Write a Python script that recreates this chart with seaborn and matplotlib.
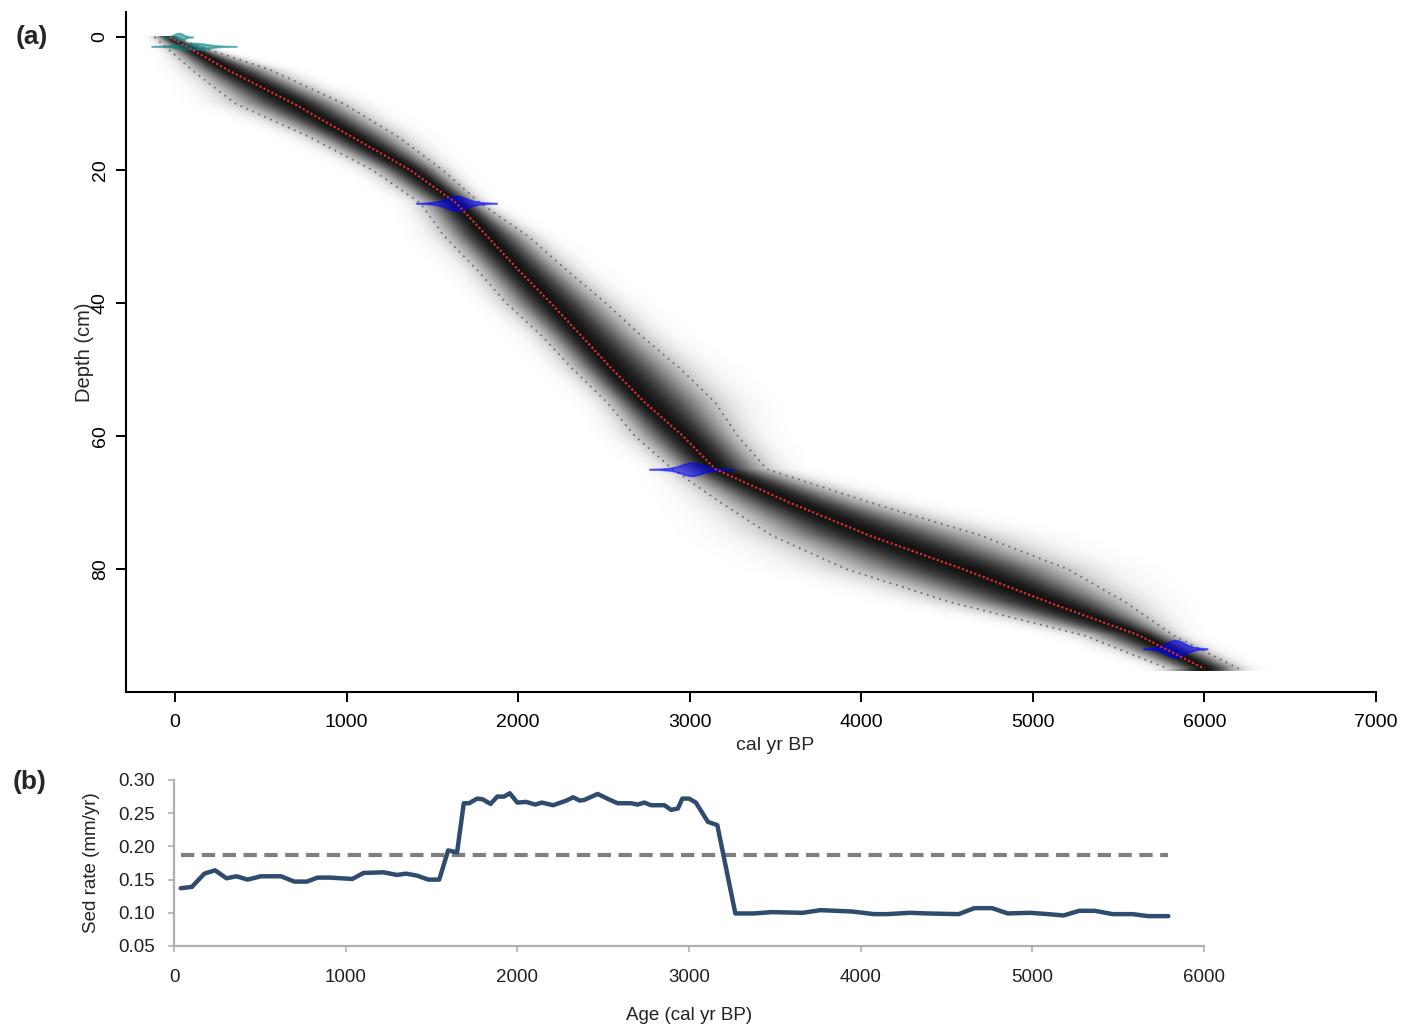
import numpy as np
import matplotlib
matplotlib.use("Agg")
import matplotlib.pyplot as plt
import seaborn as sns

# ---------------- data ----------------
# Panel (a): age-depth model (depth in cm, ages in cal yr BP)
model_depth = [0, 5, 10, 15, 20, 25, 30, 35, 40, 45, 50, 55, 60, 65, 70, 75, 80, 85, 90, 95]
model_mean = [-30, 310, 690, 1030, 1370, 1640, 1820, 2000, 2190, 2370, 2550, 2740, 2960,
              3150, 3580, 4050, 4590, 5090, 5620, 6000]
model_lower = [-120, 100, 350, 780, 1150, 1430, 1570, 1760, 1930, 2140, 2320, 2520, 2680,
               2900, 3180, 3480, 3910, 4520, 5300, 5790]
model_upper = [-20, 560, 980, 1300, 1560, 1780, 2060, 2280, 2510, 2720, 2950, 3150, 3280,
               3450, 4050, 4700, 5200, 5540, 5820, 6200]

# dated levels: depth, calibrated age centre, core spread, tail spread, half-height (cm)
date_depth = [0.0, 1.4, 25.0, 65.0, 92.0]
date_age = [20, 110, 1640, 3010, 5830]
date_core_sd = [25, 70, 55, 55, 50]
date_tail_sd = [40, 120, 115, 120, 90]
date_height = [0.6, 0.5, 1.1, 1.0, 1.3]
date_kind = ["cal", "cal", "c14", "c14", "c14"]

# Panel (b): sedimentation rate
sed_age = [39, 104, 177, 239, 306, 364, 429, 506, 623, 701, 774, 836, 909, 1039, 1104,
           1221, 1299, 1351, 1416, 1481, 1545, 1597, 1649, 1688, 1719, 1766, 1797, 1844,
           1883, 1922, 1956, 2000, 2052, 2104, 2143, 2208, 2286, 2325, 2364, 2390, 2468,
           2532, 2584, 2662, 2701, 2740, 2779, 2857, 2896, 2935, 2961, 3000, 3040, 3110,
           3165, 3270, 3377, 3481, 3662, 3766, 3948, 4078, 4156, 4286, 4390, 4571, 4662,
           4766, 4857, 4987, 5091, 5182, 5273, 5364, 5468, 5584, 5675, 5792]
sed_rate = [0.137, 0.139, 0.159, 0.164, 0.152, 0.155, 0.150, 0.155, 0.155, 0.147, 0.147,
            0.153, 0.153, 0.151, 0.160, 0.161, 0.157, 0.159, 0.156, 0.150, 0.150, 0.194,
            0.191, 0.265, 0.265, 0.272, 0.271, 0.264, 0.275, 0.275, 0.280, 0.266, 0.267,
            0.263, 0.266, 0.262, 0.269, 0.274, 0.269, 0.270, 0.279, 0.271, 0.265, 0.265,
            0.263, 0.266, 0.262, 0.262, 0.255, 0.257, 0.272, 0.272, 0.266, 0.237, 0.232,
            0.099, 0.099, 0.101, 0.100, 0.104, 0.102, 0.098, 0.098, 0.100, 0.099, 0.098,
            0.107, 0.107, 0.099, 0.100, 0.098, 0.096, 0.103, 0.103, 0.098, 0.098, 0.095,
            0.095]
mean_rate = 0.187

top_xticks = [0, 1000, 2000, 3000, 4000, 5000, 6000, 7000]
top_yticks = [0, 20, 40, 60, 80]
bot_xticks = [0, 1000, 2000, 3000, 4000, 5000, 6000]
bot_yticks = [0.05, 0.10, 0.15, 0.20, 0.25, 0.30]

# ---------------- style ----------------
sns.set_style("ticks")
plt.rcParams["font.family"] = ["Liberation Sans", "DejaVu Sans"]

W, H = 1401, 1028
fig = plt.figure(figsize=(W / 100, H / 100), dpi=100)


def rect(l, t, r, b):
    return [l / W, 1 - b / H, (r - l) / W, (b - t) / H]


axa = fig.add_axes(rect(126, 12, 1376, 692))
axb = fig.add_axes(rect(174, 780, 1204, 946))

# ---------------- panel (a) ----------------
age_grid = np.linspace(-300, 7000, 1461)
depth_grid = np.arange(0, 95.6, 0.2)
mu = np.interp(depth_grid, model_depth, model_mean)
lo = np.interp(depth_grid, model_depth, model_lower)
hi = np.interp(depth_grid, model_depth, model_upper)
s_lo = np.maximum((mu - lo) / 1.9, 25)
s_hi = np.maximum((hi - mu) / 1.9, 25)
A = age_grid[None, :]
M = mu[:, None]
sig = np.where(A < M, s_lo[:, None], s_hi[:, None])
z = np.abs(A - M) / sig
dens = np.exp(-0.5 * z ** 2) ** 0.8
axa.imshow(dens, extent=[-300, 7000, depth_grid[-1], 0], origin="upper", cmap="gray_r",
           vmin=0, vmax=1.08, aspect="auto", interpolation="bilinear", zorder=1)

for bound in (model_lower, model_upper):
    sns.lineplot(x=bound, y=model_depth, ax=axa, sort=False, estimator=None,
                 color="#6e6e6e", lw=1.3, linestyle=(0, (1, 2.6)), zorder=3)

sns.lineplot(x=model_mean, y=model_depth, ax=axa, sort=False, estimator=None,
             color="#d83030", lw=1.6, linestyle=(0, (1, 1)), zorder=5)

for d, a, s1, s2, h, kind in zip(date_depth, date_age, date_core_sd, date_tail_sd,
                                 date_height, date_kind):
    ages = np.linspace(a - 3.2 * s2, a + 3.2 * s2, 300)
    p = 0.75 * np.exp(-0.5 * ((ages - a) / s1) ** 2) + 0.25 * np.exp(-0.5 * ((ages - a) / s2) ** 2)
    keep = p > 0.03
    ages, p = ages[keep], p[keep]
    col = (0.0, 0.0, 1.0, 0.55) if kind == "c14" else (0.0, 0.5, 0.5, 0.55)
    axa.fill_between(ages, d - h * p, d + h * p, color=col, lw=1.2, edgecolor=col, zorder=4)

axa.set_xlim(-286, 7000)
axa.set_ylim(98.5, -3.76)
axa.set_xticks(top_xticks)
axa.set_xticklabels([str(t) for t in top_xticks])
axa.set_yticks(top_yticks)
axa.set_yticklabels([str(t) for t in top_yticks])
for lbl in axa.get_yticklabels():
    lbl.set_rotation(90)
    lbl.set_va("center")
axa.tick_params(axis="both", direction="out", length=7.5, width=1.4, labelsize=14,
                colors="black")
axa.tick_params(axis="x", pad=8)
axa.tick_params(axis="y", pad=5)
for side in ("top", "right"):
    axa.spines[side].set_visible(False)
for side in ("left", "bottom"):
    axa.spines[side].set_linewidth(1.5)
    axa.spines[side].set_color("black")
axa.set_xlabel("cal yr BP", fontsize=14)
axa.xaxis.set_label_coords((775 - 126) / 1250, -(745 - 692) / 680)
axa.xaxis.label.set_va("center")
axa.set_ylabel("Depth (cm)", fontsize=14.5)
axa.yaxis.set_label_coords((84 - 126) / 1250, (692 - 352) / 680)
axa.yaxis.label.set_va("center")

# ---------------- panel (b) ----------------
sns.lineplot(x=[sed_age[0], sed_age[-1]], y=[mean_rate, mean_rate], ax=axb,
             color="#7f7f7f", lw=3.0, linestyle=(0, (3.2, 1.8)), zorder=2)
sns.lineplot(x=sed_age, y=sed_rate, ax=axb, sort=False, estimator=None,
             color="#2f4b6e", lw=3.2, zorder=3)
axb.set_xlim(0, 6000)
axb.set_ylim(0.05, 0.30)
axb.set_xticks(bot_xticks)
axb.set_xticklabels([str(t) for t in bot_xticks])
axb.set_yticks(bot_yticks)
axb.set_yticklabels([f"{t:.2f}" for t in bot_yticks])
axb.tick_params(axis="both", direction="out", length=4.5, width=1.2, color="#b0b0b0",
                labelcolor="#222222", labelsize=13.5)
axb.tick_params(axis="x", pad=12)
axb.tick_params(axis="y", pad=9)
for side in ("top", "right"):
    axb.spines[side].set_visible(False)
for side in ("left", "bottom"):
    axb.spines[side].set_linewidth(1.6)
    axb.spines[side].set_color("#b0b0b0")
axb.set_xlabel("Age (cal yr BP)", fontsize=13.5, color="#222222")
axb.xaxis.set_label_coords(0.5, -(1016 - 946) / 166)
axb.xaxis.label.set_va("center")
axb.set_ylabel("Sed rate (mm/yr)", fontsize=13.5, color="#222222")
axb.yaxis.set_label_coords((92 - 174) / 1030, 0.5)
axb.yaxis.label.set_va("center")

# panel letters
fig.text(32 / W, 1 - 37 / H, "(a)", fontsize=19, fontweight="bold", ha="center", va="center")
fig.text(30 / W, 1 - 782 / H, "(b)", fontsize=19, fontweight="bold", ha="center", va="center")

fig.savefig("out.png", dpi=100)
